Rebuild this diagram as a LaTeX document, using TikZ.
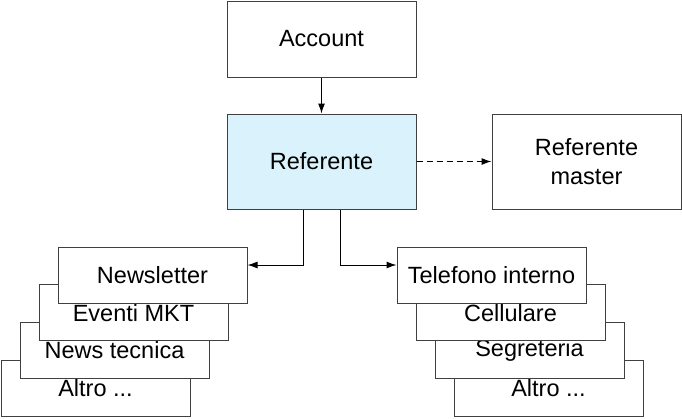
\documentclass[tikz,border=0pt]{standalone}
\usepackage{fontspec}
\setmainfont{Liberation Sans}
\usetikzlibrary{arrows.meta}
\definecolor{boxline}{HTML}{404040}
\definecolor{reffill}{HTML}{DAF2FB}
\begin{document}
\begin{tikzpicture}[x=1pt,y=-1pt,
  every node/.style={font=\fontsize{23.5}{29}\selectfont, text=black},
  entity/.style={draw=boxline, line width=1pt, fill=white, minimum width=189pt, minimum height=56pt, inner sep=0pt, align=center},
  bigbox/.style={entity, minimum height=95pt},
  topbox/.style={entity, minimum height=76pt},
  arr/.style={-{Latex[length=10pt,width=7pt]}, line width=1pt, draw=black}
]
\useasboundingbox (0,0) rectangle (682,418);
% top
\node[topbox] (acc) at (321.5,39) {Account};
\node[bigbox, fill=reffill] (ref) at (321.5,161.5) {Referente};
\node[bigbox] (mas) at (586.5,161.5) {Referente\\master};
% left stack (back to front)
\node[entity] (la) at (95.5,388) {Altro ...};
\node[entity] (lt) at (114.5,350.4) {News tecnica};
\node[entity] (le) at (133.5,312.7) {Eventi MKT};
\node[entity] (ln) at (152.5,275) {Newsletter};
% right stack (back to front)
\node[entity] (ra) at (548.5,388) {Altro ...};
\node[entity] (rs) at (529.5,350.4) {Segreteria};
\node[entity] (rc) at (510.5,312.7) {Cellulare};
\node[entity] (rt) at (491.5,275) {Telefono interno};
% connectors
\draw[arr] (acc) -- (ref);
\draw[arr, dash pattern=on 6pt off 4pt] (ref) -- (mas);
\draw[arr] ([xshift=-18.5pt]ref.south) |- ([yshift=10pt]ln.east);
\draw[arr] ([xshift=18.5pt]ref.south) |- ([yshift=10pt]rt.west);
\end{tikzpicture}
\end{document}
